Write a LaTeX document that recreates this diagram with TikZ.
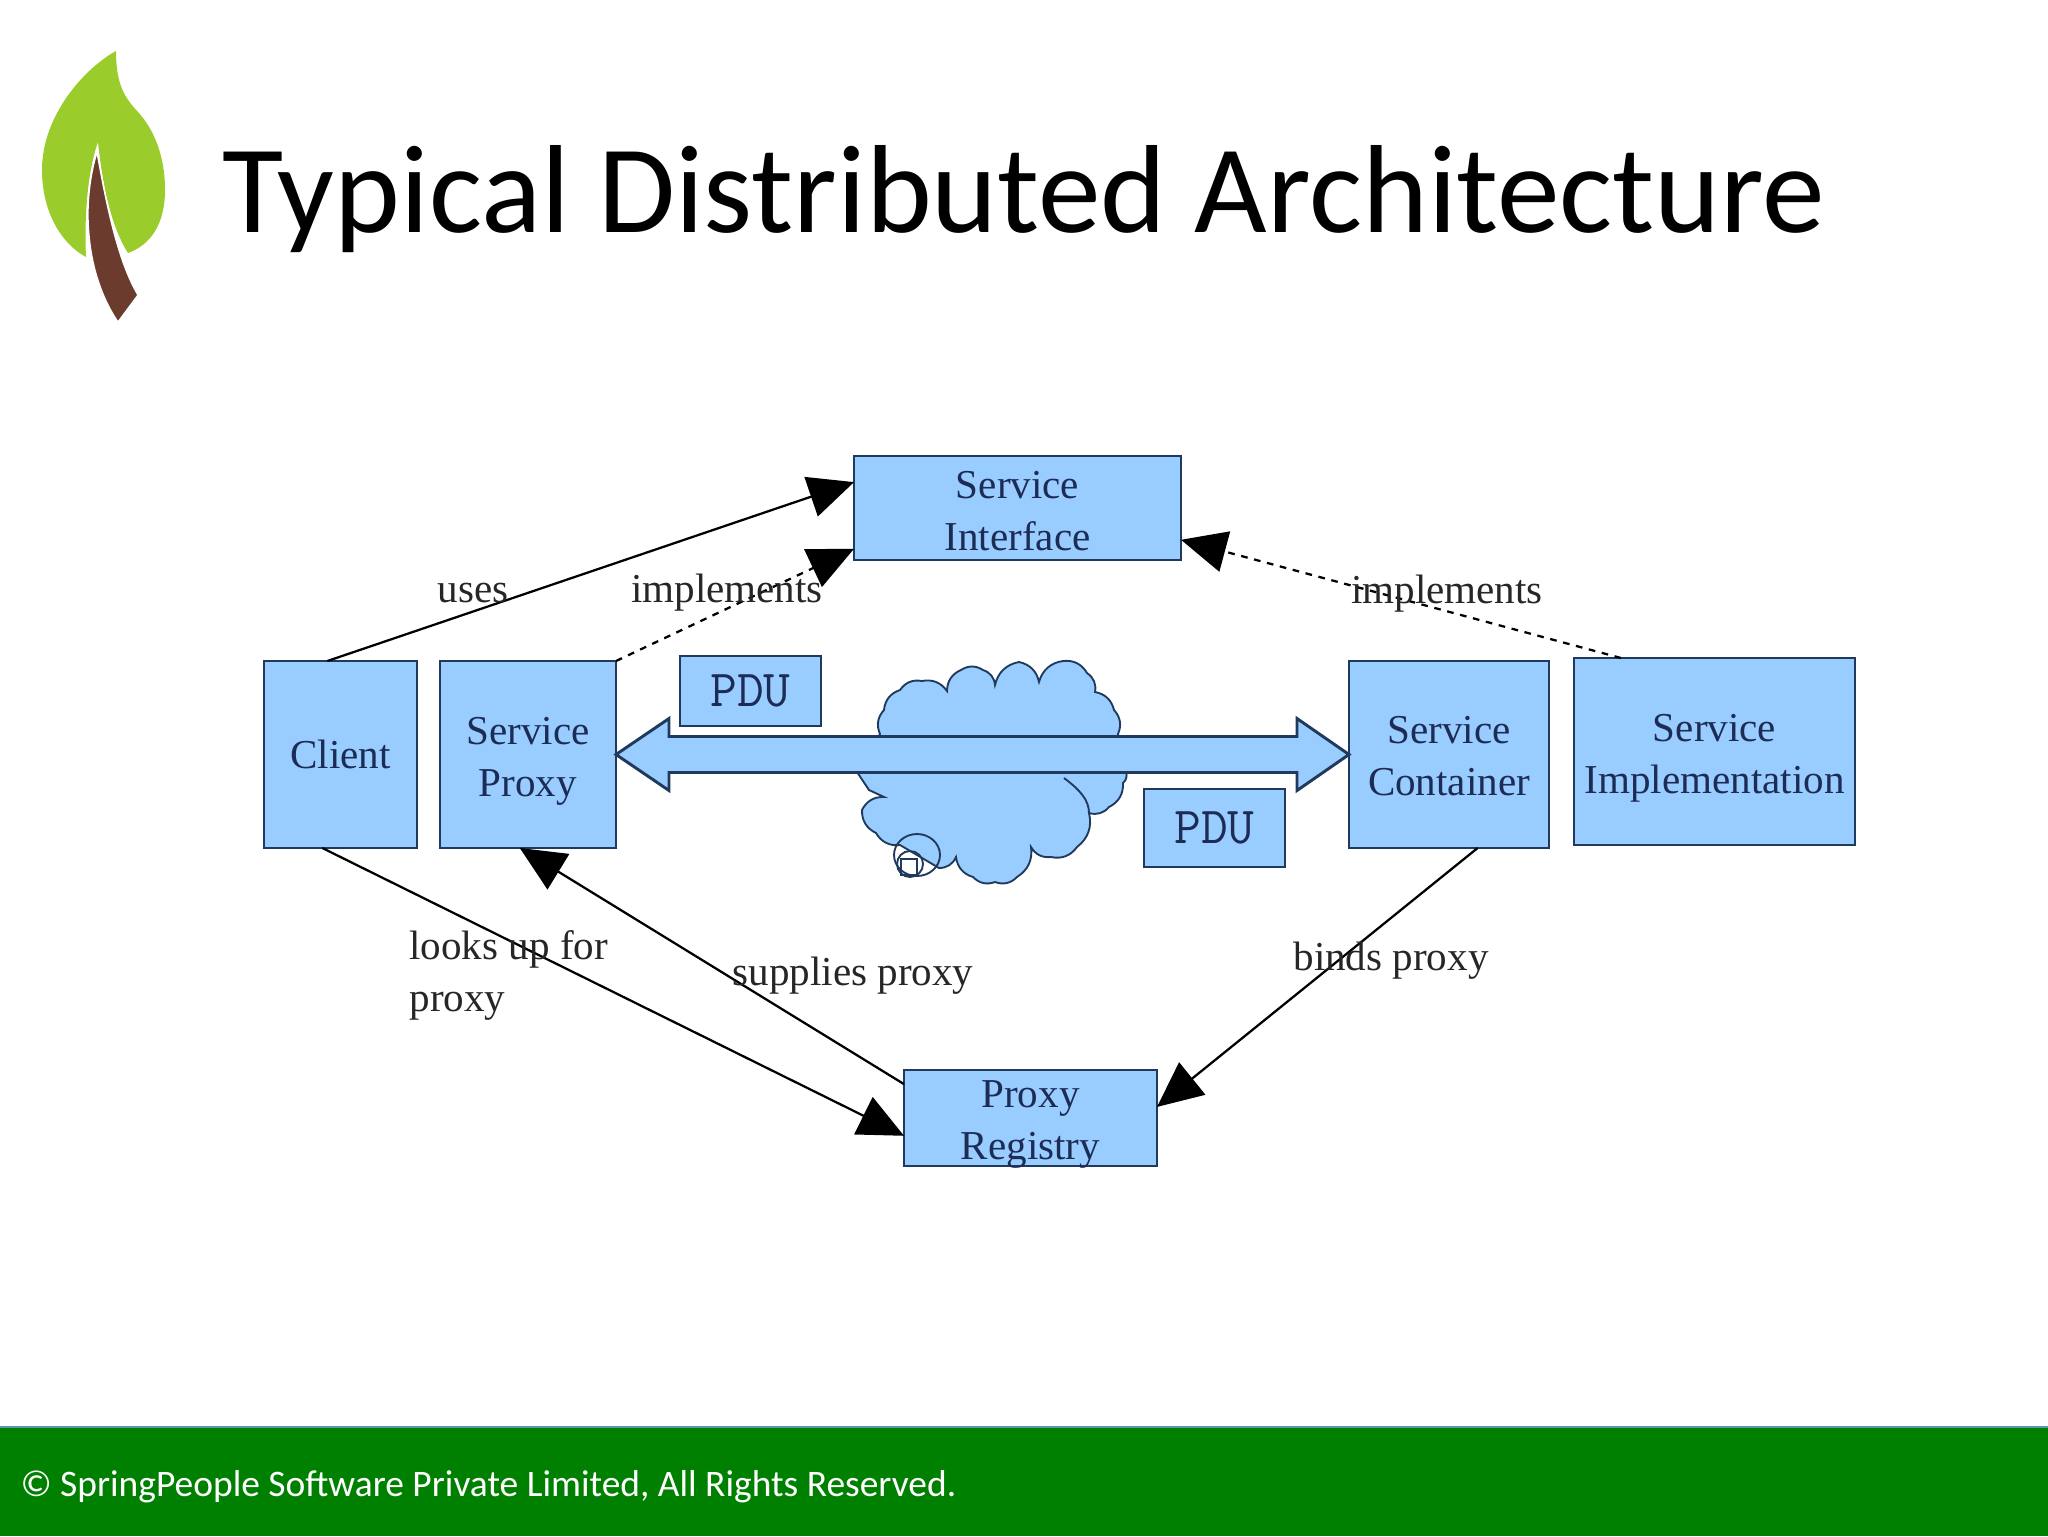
\documentclass[tikz,border=0pt]{standalone}
\usepackage{fontspec}
\setmainfont{Liberation Serif}
\newfontfamily\slidefont{Carlito}
\usetikzlibrary{arrows.meta}
\definecolor{boxblue}{HTML}{99CCFF}
\definecolor{boxline}{HTML}{1F3A5C}
\definecolor{boxtext}{HTML}{1C2C55}
\definecolor{labeltext}{HTML}{262626}
\definecolor{footgreen}{HTML}{008000}
\definecolor{footline}{HTML}{5F93B8}
\definecolor{leafgreen}{HTML}{9ACD2B}
\definecolor{leafbrown}{HTML}{6B3B2D}
\newcommand{\lift}[1]{\rule{0pt}{#1}}
\newcommand{\drop}[1]{\raisebox{-11.5pt}[0pt][0pt]{#1}}
\tikzset{
  every picture/.style={line width=0.75pt},
  box/.style={draw=boxline,fill=boxblue,line width=2.2pt,inner sep=0pt,outer sep=0pt,align=center,text=boxtext,font=\fontsize{30.8}{39}\selectfont},
  pdubox/.style={box,font=\ttfamily\fontsize{39}{39}\selectfont},
  lbl/.style={inner sep=0pt,text=labeltext,align=left,font=\fontsize{30.8}{39}\selectfont},
  link/.style={draw=black,line width=1.7pt,-{Triangle[length=34pt,width=31pt,fill=black]}},
  dashlink/.style={link,dash pattern=on 5pt off 5pt},
  puff/.style={bend right=33}
}

\begin{document}
\begin{tikzpicture}[x=0.75pt,y=0.75pt,yscale=-1,xscale=1]
\useasboundingbox (0,0) rectangle (2048,1536);

%Shape: Footer band
\fill [footgreen] (0,1427) rectangle (2048,1536);
\draw [footline,line width=1.5pt] (0,1427) -- (2048,1427);

%Shape: Leaf
\fill [leafgreen] (116,51) .. controls (85,68) and (42,115) .. (42,170) .. controls (42,210) and (60,243) .. (86,257) .. controls (84,215) and (88,170) .. (98,142) .. controls (102,180) and (110,225) .. (128,253) .. controls (150,245) and (165,225) .. (165,190) .. controls (165,150) and (150,125) .. (138,112) .. controls (125,98) and (116,85) .. (116,51) -- cycle ;
\draw [fill=leafbrown,draw=white,line width=1pt] (97,152) .. controls (90,175) and (86,205) .. (89,235) .. controls (92,270) and (103,300) .. (118,322) -- (138,295) .. controls (120,265) and (108,215) .. (97,152) -- cycle ;

% Text Node
\node [anchor=base west,inner sep=0pt,font=\slidefont\fontsize{94}{94}\selectfont] (title) at (222,232) {Typical Distributed Architecture};
% Text Node
\node [anchor=west,inner sep=0pt,text=white,font=\slidefont\fontsize{28.1}{35}\selectfont] (foot) at (20,1487) {© SpringPeople Software Private Limited, All Rights Reserved.};

%Shape: Cloud
\draw [fill=boxblue,draw=boxline,line width=1.4pt] (880,734) to [puff] (884,710) to [puff] (900,690) to [puff] (922,681) to [puff] (947,691) to [puff] (961,670) to [puff] (983,670) to [puff] (995,685) to [puff] (1019,662) to [puff] (1039,682) to [puff] (1063,661) to [puff] (1087,673) to [puff] (1095,692) to [puff] (1114,710) to [puff] (1118,734) -- (1126,772) to [puff] (1123,783) to [puff] (1109,807) to [puff] (1089,813) to [puff] (1077,847) to [puff] (1051,857) to [puff] (1031,847) to [puff] (1017,877) to [puff] (995,882) to [puff] (973,877) to [puff] (956,857) to [puff] (939,868) -- (900,845) to [puff] (876,833) to [puff] (862,810) to [puff] (884,797) -- (869,790) -- (857,772) -- cycle ;
\draw [boxline,line width=1.4pt] (1064,778) .. controls (1080,790) and (1089,800) .. (1089,813) ;
%Shape: Small rings on the cloud
\draw [boxline,line width=1.4pt] (917,855) circle [x radius=23,y radius=21] ;
\draw [boxline,line width=1.4pt] (910,864) circle [radius=13] ;
\draw [boxline,line width=1.4pt] (901,859) rectangle (917,875) ;

%Boxes
\node [box,minimum width=245.25pt,minimum height=78pt] (iface) at (1017.5,508) {\lift{25pt}Service\\Interface};
\node [box,minimum width=114.75pt,minimum height=140.25pt] (client) at (340.5,754.5) {Client};
\node [box,minimum width=132pt,minimum height=140.25pt] (proxy) at (528,754.5) {\lift{30pt}Service\\Proxy};
\node [box,minimum width=150pt,minimum height=140.25pt] (container) at (1449,754.5) {\lift{23pt}Service\\Container};
\node [box,minimum width=210.75pt,minimum height=140.25pt] (impl) at (1714.5,751.5) {\lift{30pt}Service\\Implementation};
\node [box,minimum width=189.75pt,minimum height=72pt] (registry) at (1030.5,1118) {\drop{Proxy}\\\drop{Registry}};
\node [pdubox,minimum width=105.75pt,minimum height=52.5pt] (pduA) at (750.5,691) {PDU};
\node [pdubox,minimum width=105.75pt,minimum height=58.5pt] (pduB) at (1214.5,828) {PDU};

%Double arrow between proxy and container
\draw [fill=boxblue,draw=boxline,line width=2.2pt,line join=miter] (proxy.east) -- ++(53,-36) -- ++(0,18) -- ++(628,0) -- ++(0,-18) -- (container.west) -- ++(-52,36) -- ++(0,-18) -- ++(-628,0) -- ++(0,18) -- cycle ;

%Straight Lines
\draw [link] (client.98) -- (iface.171) ;
\draw [dashlink] (proxy.north east) -- (iface.194) ;
\draw [dashlink] (impl.135) -- (iface.-11) ;
\draw [link] (client.259) -- (registry.188) ;
\draw [link] (registry.165) -- (proxy.265) ;
\draw [link] (container.287) -- (registry.5) ;

% Text Node
\node [lbl] (uses) at (473,593) {uses};
% Text Node
\node [lbl] (implA) at (727,593) {implements};
% Text Node
\node [lbl] (implB) at (1447,594) {implements};
% Text Node
\node [lbl,anchor=north west] (looks) at (409,930) {looks up for\\proxy};
% Text Node
\node [lbl] (supplies) at (853,976) {supplies proxy};
% Text Node
\node [lbl] (binds) at (1391,961) {binds proxy};

\end{tikzpicture}
\end{document}
